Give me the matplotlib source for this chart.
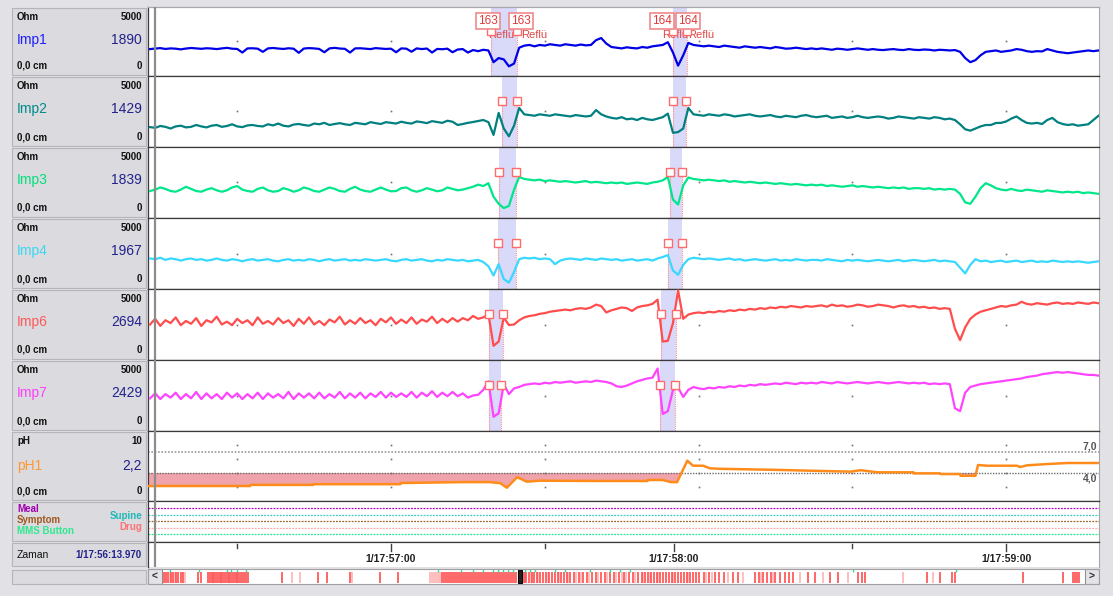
import numpy as np
import matplotlib.pyplot as plt
from matplotlib.patches import Rectangle

plt.rcParams['font.family'] = ['Liberation Sans', 'DejaVu Sans']

W, H = 1113, 596

# ---- data: seconds relative to 1/17:57:00, one sample per second ----
t = np.arange(-47, 139)
T_CURSOR = -46.03          # 1/17:56:13.970
XLIM = (-47.4, 138.1)

channels = ['Imp1', 'Imp2', 'Imp3', 'Imp4', 'Imp6', 'Imp7']
readings = ['1890', '1429', '1839', '1967', '2694', '2429']

imp1 = [1950, 1990, 2020, 1960, 2000, 1980, 1930, 1990, 2030, 2000,
        1970, 2010, 1990, 1950, 2000, 2040, 1980, 1960, 1700, 2000,
        2010, 1980, 1750, 2000, 2030, 1990, 1960, 2010, 1980, 1680,
        1990, 2020, 2000, 1960, 1720, 2000, 2040, 1990, 1970, 1700,
        2000, 2010, 1980, 1950, 2020, 1990, 1960, 1980, 1720, 2000,
        1980, 1760, 2000, 1950, 1990, 1700, 1960, 1940, 1980, 1720,
        1920, 1950, 1700, 1880, 1800, 1900, 1850, 1000, 1300, 1200,
        700, 900, 2050, 2200, 2250, 2150, 2250, 2200, 2300, 2250,
        2200, 2300, 2250, 2200, 2280, 2220, 2250, 2600, 2750, 2350,
        2100, 2050, 2000, 2080, 2030, 2000, 2100, 2050, 2150, 2200,
        2250, 2450, 1700, 750, 1500, 2400, 2250, 2200, 2150, 2200,
        2150, 2100, 2200, 2150, 2100, 2050, 2150, 2100, 2050, 2100,
        2050, 2000, 2100, 2050, 1980, 2000, 2050, 2000, 1950, 2000,
        1950, 2000, 1950, 1900, 1980, 1950, 1900, 1950, 2000, 1950,
        1900, 1950, 1900, 1880, 1920, 1950, 1900, 1880, 1950, 1900,
        1880, 1920, 1900, 1850, 1900, 1880, 1850, 1880, 1750, 1300,
        1000, 1150, 1500, 1750, 1800, 1850, 1750, 1800, 1850, 1950,
        1900, 1800, 1750, 1800, 1780, 1950, 1850, 1750, 1700, 1650,
        1700, 1750, 1800, 1850, 1800, 1850]

imp2 = [1400, 1350, 1480, 1420, 1300, 1450, 1500, 1380, 1420, 1550,
        1450, 1380, 1500, 1550, 1420, 1480, 1600, 1450, 1400, 1520,
        1550, 1480, 1450, 1600, 1520, 1650, 1500, 1450, 1580, 1620,
        1550, 1500, 1650, 1600, 1700, 1550, 1620, 1680, 1600, 1550,
        1700, 1650, 1600, 1750, 1680, 1620, 1750, 1700, 1650, 1780,
        1700, 1650, 1800, 1750, 1680, 1820, 1760, 1700, 1850, 1780,
        1550, 1620, 1700, 1760, 1830, 1900, 1750, 850, 2400, 1300,
        750, 1500, 2750, 2300, 2250, 2200, 2300, 2250, 2200, 2300,
        2250, 2200, 2150, 2250, 2200, 2150, 2200, 2600, 2300, 2150,
        2050, 2000, 2100, 1950, 2000, 1900, 2050, 1950, 1900, 2000,
        2100, 2350, 1000, 1050, 1300, 2750, 2300, 2250, 2200, 2300,
        2250, 2200, 2300, 2250, 2150, 2200, 2250, 2300, 2200, 2150,
        2200, 2250, 2150, 2100, 2200, 2150, 2100, 2200, 2250, 2150,
        2100, 2150, 2200, 2050, 2100, 2150, 2050, 2100, 2200, 2100,
        2050, 2100, 2150, 2100, 2000, 2050, 2150, 2100, 2050, 2000,
        2100, 2050, 2000, 2100, 2050, 1950, 2000, 1900, 1600, 1250,
        1150, 1300, 1450, 1550, 1550, 1690, 1700, 1800, 2000, 2150,
        1900, 1700, 1650, 1700, 1620, 1900, 2050, 1750, 1620, 1550,
        1600, 1500, 1550, 1600, 1900, 2200]

imp3 = [1900, 2000, 2150, 2050, 1900, 1850, 2000, 2200, 2050, 1900,
        1850, 2000, 2100, 1950, 1850, 1950, 2150, 2250, 2000, 1900,
        1850, 2050, 2150, 1950, 1850, 1900, 2100, 2000, 1850, 1950,
        2150, 2050, 1900, 1850, 2000, 2150, 2050, 1900, 1850, 2050,
        2200, 2000, 1900, 1850, 2000, 2150, 2000, 1880, 1900, 2100,
        2150, 1950, 1850, 1950, 2100, 2000, 1880, 1950, 2150, 2050,
        1950, 2000, 2100, 2200, 2350, 2250, 2450, 1500, 1000, 700,
        850, 2000, 2890, 2750, 2700, 2650, 2700, 2600, 2650, 2600,
        2550, 2600, 2550, 2500, 2550, 2600, 2500, 2550, 2500, 2450,
        2500, 2450, 2500, 2400, 2450, 2500, 2450, 2400, 2500, 2550,
        2650, 2900, 1300, 950, 2300, 2850, 2750, 2700, 2650, 2700,
        2650, 2600, 2650, 2550, 2600, 2550, 2500, 2550, 2500, 2450,
        2500, 2450, 2400, 2450, 2400, 2350, 2400, 2350, 2300, 2350,
        2300, 2350, 2250, 2300, 2250, 2200, 2250, 2300, 2200, 2250,
        2200, 2150, 2200, 2150, 2100, 2150, 2100, 2150, 2050, 2100,
        2100, 2050, 2100, 2000, 2050, 2000, 2050, 2000, 1700, 1100,
        1000, 1500, 2100, 2450, 2300, 2100, 2000, 1950, 2050, 1950,
        1900, 2000, 1950, 1900, 1850, 1950, 1900, 1850, 1800, 1850,
        1800, 1850, 1750, 1800, 1750, 1700]

imp4 = [2150, 2100, 2200, 2050, 2150, 2100, 2000, 2100, 2150, 2050,
        2100, 2000, 2050, 2150, 2050, 2000, 2100, 2050, 1950, 2050,
        2100, 2000, 2050, 2100, 2000, 1950, 2050, 2100, 2000, 2050,
        2000, 2100, 2050, 1950, 2050, 2100, 2000, 2050, 2100, 2000,
        2050, 2000, 2100, 2050, 2000, 2050, 2100, 2000, 1950, 2050,
        2100, 2000, 2050, 2100, 2000, 1950, 2050, 2000, 2100, 2050,
        2000, 2050, 1950, 2000, 2050, 1900, 1600, 950, 1750, 700,
        450, 1200, 2100, 2200, 2150, 2200, 2100, 2150, 2100, 1750,
        2000, 2100, 2150, 2100, 2050, 2150, 2100, 2050, 2150, 2100,
        2050, 2100, 2000, 2050, 2100, 2000, 2050, 2100, 2000, 2150,
        2250, 2390, 1300, 1000, 1700, 2100, 2200, 2150, 2100, 2150,
        2100, 2050, 2100, 2150, 2050, 2100, 2000, 2050, 2100, 2050,
        2000, 2050, 2100, 2000, 2050, 2000, 2100, 2050, 2000, 2050,
        2050, 2000, 2100, 2050, 2000, 1950, 2050, 2000, 2050, 2000,
        1950, 2000, 2050, 2000, 1950, 2000, 2050, 1950, 2000, 2050,
        2000, 1950, 2000, 2050, 1950, 2000, 1950, 1900, 1500, 1100,
        1700, 2100, 1950, 2000, 1900, 1950, 2000, 1900, 1950, 2000,
        1900, 1950, 2000, 1900, 1950, 1900, 2000, 1950, 1900, 1950,
        1900, 1950, 1900, 1850, 1900, 1950]

imp6 = [2500, 2900, 2400, 2800, 2600, 3000, 2450, 2750, 2550, 2950,
        2400, 2800, 2650, 3050, 2500, 2700, 2450, 2900, 2600, 2800,
        2450, 3000, 2550, 2750, 2500, 2950, 2600, 2800, 2400, 2900,
        2550, 3000, 2500, 2750, 2450, 2850, 2650, 3050, 2500, 2800,
        2550, 2950, 2600, 2800, 2450, 2900, 2650, 3000, 2550, 2850,
        2600, 3000, 2550, 2850, 2700, 3050, 2600, 2900, 2650, 2950,
        2700, 2950, 2800, 3100, 2900, 3000, 3240, 1000, 1300, 3000,
        2460, 2500, 2800, 3000, 3100, 3150, 3250, 3300, 3400, 3450,
        3500, 3550, 3500, 3600, 3650, 3600, 3700, 3900, 3800, 3350,
        3500, 3600, 3700, 3650, 3450, 3700, 3800, 3850, 3950, 4250,
        1300, 1350, 2600, 4900, 2900, 3200, 3300, 3350, 3300, 3400,
        3350, 3450, 3400, 3500, 3450, 3550, 3500, 3600, 3550, 3650,
        3600, 3700, 3650, 3750, 3700, 3800, 3750, 3700, 3800, 3750,
        3800, 3850, 3750, 3900, 3800, 3850, 3750, 3800, 3900, 3850,
        3750, 3800, 3900, 3850, 3800, 3700, 3800, 3850, 3750, 3800,
        3700, 3750, 3650, 3700, 3600, 3650, 3600, 2200, 1400, 2300,
        2900, 3200, 3400, 3500, 3600, 3700, 3800, 3750, 3850, 3900,
        4100, 3950, 3900, 4000, 3950, 3900, 4000, 4050, 3950, 4000,
        3950, 4050, 4000, 3950, 4050, 4000]

imp7 = [2300, 2650, 2250, 2600, 2350, 2700, 2250, 2600, 2300, 2750,
        2250, 2650, 2300, 2600, 2250, 2700, 2350, 2650, 2250, 2600,
        2300, 2700, 2250, 2650, 2350, 2600, 2300, 2750, 2250, 2650,
        2350, 2650, 2300, 2700, 2300, 2600, 2350, 2750, 2300, 2650,
        2350, 2700, 2300, 2650, 2400, 2750, 2350, 2700, 2400, 2650,
        2400, 2750, 2350, 2700, 2450, 2800, 2400, 2700, 2450, 2750,
        2450, 2650, 2350, 2500, 2550, 2900, 3500, 1000, 1250, 3300,
        2600, 3000, 3100, 3250, 3300, 3350, 3300, 3400, 3350, 3450,
        3400, 3450, 3500, 3400, 3450, 3500, 3450, 3550, 3500, 3450,
        3350, 3150, 3100, 3200, 3350, 3500, 3600, 3700, 3750, 4400,
        1200, 1400, 2900, 3050, 2400, 2900, 3100, 3000, 2950, 3050,
        3000, 3100, 3050, 3150, 3100, 3200, 3150, 3250, 3200, 3300,
        3250, 3300, 3350, 3300, 3400, 3350, 3300, 3400, 3350, 3400,
        3350, 3450, 3400, 3350, 3450, 3400, 3350, 3400, 3450, 3400,
        3350, 3400, 3450, 3400, 3350, 3400, 3450, 3400, 3350, 3400,
        3350, 3400, 3300, 3350, 3300, 3350, 3300, 1600, 1400, 2700,
        3100, 3200, 3300, 3350, 3400, 3450, 3500, 3550, 3600, 3650,
        3700, 3800, 3850, 3900, 4000, 4050, 4100, 4150, 4100, 4150,
        4100, 4050, 4000, 3950, 3950, 3900]

imp_values = [imp1, imp2, imp3, imp4, imp6, imp7]

# reflux episodes 163 and 164 (start / end per channel, seconds)
r163_start = [19.5, 21.7, 21.1, 20.9, 19.1, 19.1]
r163_end = [24.6, 24.6, 24.4, 24.4, 21.9, 21.5]
r164_start = [55.0, 55.0, 54.4, 54.0, 52.7, 52.5]
r164_end = [57.8, 57.6, 56.8, 56.8, 55.6, 55.4]
MARK_OHM = 3250

# pH channel (breakpoints)
ph_t = [-47.4, -27.5, -27.4, -15.2, -15.1, 1.8, 1.9, 14, 19.3, 21.3, 22.6,
        24.6, 26.5, 29, 40.8, 50, 50.1, 53, 54.6, 55.8, 57.8, 58.9, 60.9,
        62.2, 64.2, 75, 89.6, 91.6, 94.8, 101.9, 102, 107.1, 107.2, 111,
        111.1, 114, 114.5, 116.3, 122.1, 122.7, 124.1, 128, 132, 138.1]
ph_v = [2.14, 2.14, 2.3, 2.3, 2.4, 2.4, 2.57, 2.7, 2.7, 2.55, 1.9,
        3.4, 2.76, 2.9, 2.86, 2.86, 3.0, 3.0, 2.7, 2.7, 5.76, 5.04, 5.04,
        4.67, 4.6, 4.45, 4.19, 4.4, 4.1, 4.1, 3.95, 3.95, 3.85, 3.85,
        3.6, 3.6, 5.14, 5.04, 5.04, 4.85, 5.1, 5.28, 5.43, 5.43]

grid_t = [-30, 0, 30, 60, 90, 120]
label_t = [0, 55.2, 120]
time_labels = ['1/17:57:00', '1/17:58:00', '1/17:59:00']

event_names = ['Meal', 'Supine', 'Symptom', 'Drug', 'MMS Button']
event_colors = ['#b000c0', '#40c8c8', '#a0602a', '#ffaaaa', '#20e890']

# overview bar (position along recording, 0..921)
ov_dark = [1, 3, 5, 8, 10, 13, 15, 18, 20, 35, 38,
           45, 47, 49, 51, 53, 55, 57, 59, 61, 63, 65, 67, 69, 71, 73, 75, 77, 79, 81, 83, 85,
           119, 155, 164, 187, 217, 235,
           279, 281, 283, 285, 287, 289, 291, 293, 295, 297, 299, 301, 303, 305, 307, 309,
           311, 313, 315, 317, 319, 321, 323, 325, 327, 329, 331, 333, 335, 337, 339, 341,
           343, 345, 347, 349, 351, 353,
           361, 363, 366, 369, 371, 374, 377, 380, 383, 386, 389, 392, 395, 398, 401, 404, 407,
           411, 416, 420, 424, 429, 433, 438, 442, 447, 451, 456, 461, 466, 470, 475,
           479, 482, 485, 488, 491, 494, 497, 500, 503, 506, 509, 512, 515, 518, 521, 524,
           527, 530, 533, 536, 541, 546, 552, 556, 561, 570, 575, 592, 596, 600, 604, 608,
           612, 617, 622, 626, 630, 645, 652, 667, 675, 695, 699, 702,
           764, 777, 789, 792, 860, 900, 910, 912, 914, 916]
ov_light = [7, 12, 22, 50, 58, 66, 74, 129, 137, 189, 267, 269, 271, 273, 275, 277,
            362, 368, 375, 385, 396, 405, 413, 418, 426, 435, 444, 453, 459, 463, 472,
            480, 487, 495, 510, 525, 543, 549, 565, 580, 598, 610, 637, 660, 685, 740, 770]
ov_green = [7, 36, 64, 68, 74, 83, 275, 298, 310, 320, 330, 335, 340, 345, 350, 362,
            367, 372, 392, 402, 427, 447, 457, 467, 690, 793]
ov_cursor = 357

# ---- style ----
trace_colors = ['#0000e6', '#008080', '#00e68a', '#38d8ff', '#ff4d4d', '#ff44ff']
label_colors = ['#1f1fff', '#008b8b', '#00e07a', '#3cd8f0', '#ff5a5a', '#ff40ff']
tops = [7, 76, 147, 218, 289, 360]
bottoms = [76, 147, 218, 289, 360, 431]
NAVY = '#22228a'
BAND = '#d9d9fa'
MARK_EC = '#ff6b6b'

fig = plt.figure(figsize=(W / 100, H / 100), dpi=100, facecolor='#e1e1e6')


def px_axes(x0, y0, x1, y1):
    return fig.add_axes([x0 / W, 1 - y1 / H, (x1 - x0) / W, (y1 - y0) / H])


def ftext(x, y, s, **kw):
    fig.text(x / W, 1 - y / H, s, va='center', **kw)


def cell(y0, y1):
    fig.add_artist(Rectangle((12 / W, 1 - (y1 - 1) / H), 134 / W, (y1 - y0 - 2) / H,
                             transform=fig.transFigure, fc='#dadadf', ec='#b4b4ba', lw=0.8))


def style_axes(ax, top_col='#3a3a3a'):
    ax.set_xlim(XLIM)
    ax.set_xticks([])
    ax.set_yticks([])
    for side in ['left', 'bottom']:
        ax.spines[side].set_color('#3a3a3a')
        ax.spines[side].set_linewidth(0.9)
    ax.spines['top'].set_color(top_col)
    ax.spines['top'].set_linewidth(0.9)
    ax.spines['right'].set_color('#a8a8a8')
    ax.axvline(T_CURSOR, color='#8c8c8c', lw=1.6, zorder=4)


# ---- impedance channels ----
for i, name in enumerate(channels):
    y0, y1 = tops[i], bottoms[i]
    ax = px_axes(148, y0, 1099, y1)
    style_axes(ax, '#a8a8a8' if i == 0 else '#3a3a3a')
    ax.set_ylim(0, 5000)
    edges = [r163_start[i], r163_end[i], r164_start[i], r164_end[i]]
    ax.axvspan(r163_start[i], r163_end[i], color=BAND, lw=0, zorder=1)
    ax.axvspan(r164_start[i], r164_end[i], color=BAND, lw=0, zorder=1)
    ax.vlines(edges, 0, MARK_OHM, colors='#ff8a8a', linestyles=(0, (1, 1)), lw=0.8, zorder=2)
    ax.plot(grid_t, [2500] * len(grid_t), ls='none', marker='s', ms=1.2,
            color='#707070', mew=0, zorder=2)
    ax.plot(t, imp_values[i], color=trace_colors[i], lw=1.6, zorder=3)
    ax.plot(edges, [MARK_OHM] * 4, ls='none', marker='s', ms=5.5, mfc='white',
            mec=MARK_EC, mew=1, zorder=6)

    if i == 0:
        ax.vlines(edges, MARK_OHM, 4000, colors='#ff8a8a', lw=0.8, zorder=2)
        for xb, num in [(19.0, '163'), (25.4, '163'), (52.8, '164'), (58.0, '164')]:
            ax.text(xb, 3990, num, ha='center', va='center', fontsize=8.5, color='#e03a3a',
                    zorder=7, bbox=dict(boxstyle='square,pad=0.18', fc='white',
                                        ec='#f08a8a', lw=1.2))
            ax.text(xb, 3000, 'Reflü', ha='left', va='center', fontsize=8,
                    color='#e04848', zorder=5)

    cell(y0, y1)
    ftext(17, y0 + 10, 'Ohm', fontsize=7, fontweight='bold', color='#111111')
    ftext(142, y0 + 10, '5000', fontsize=7, fontweight='bold', color='#111111', ha='right')
    ftext(17, y0 + 33, name, fontsize=10, color=label_colors[i])
    ftext(142, y0 + 33, readings[i], fontsize=10, color=NAVY, ha='right')
    ftext(17, y1 - 10, '0,0 cm', fontsize=7, fontweight='bold', color='#111111')
    ftext(142, y1 - 10, '0', fontsize=7, fontweight='bold', color='#111111', ha='right')

# ---- pH channel ----
pax = px_axes(148, 431, 1099, 501)
style_axes(pax)
pax.set_ylim(0, 10)
ph_t_arr = np.array(ph_t)
ph_v_arr = np.array(ph_v)
pax.fill_between(ph_t_arr, ph_v_arr, 4.0, where=ph_v_arr < 4.0, interpolate=True,
                 color='#f0a3aa', lw=0, zorder=1)
pax.axhline(7.0, color='#9a9a9a', ls=(0, (1, 1)), lw=1.2, zorder=2)
pax.axhline(4.0, color='#6a6a6a', ls=(0, (1, 1)), lw=1.0, zorder=2)
for lev in [8, 6, 4, 2]:
    pax.plot(grid_t, [lev] * len(grid_t), ls='none', marker='s', ms=1.2,
             color='#707070', mew=0, zorder=2)
pax.plot(ph_t, ph_v, color='#ff8c1a', lw=1.8, zorder=3)
pax.text(0.998, 7.85, '7,0', transform=pax.get_yaxis_transform(), ha='right',
         va='center', fontsize=7.5, fontweight='bold', color='#555555')
pax.text(0.998, 3.15, '4,0', transform=pax.get_yaxis_transform(), ha='right',
         va='center', fontsize=7.5, fontweight='bold', color='#555555')

cell(431, 501)
ftext(17, 441, 'pH', fontsize=7, fontweight='bold', color='#111111')
ftext(142, 441, '10', fontsize=7, fontweight='bold', color='#111111', ha='right')
ftext(17, 466, 'pH1', fontsize=10, color='#ff9933')
ftext(142, 466, '2,2', fontsize=10, color=NAVY, ha='right')
ftext(17, 491, '0,0 cm', fontsize=7, fontweight='bold', color='#111111')
ftext(142, 491, '0', fontsize=7, fontweight='bold', color='#111111', ha='right')

# ---- event channel ----
eax = px_axes(148, 501, 1099, 542)
style_axes(eax)
eax.set_ylim(41, 0)
for yy, col in zip([7, 14, 20, 27, 33], event_colors):
    eax.axhline(yy, color=col, ls=(0, (1.5, 1)), lw=0.9)

cell(501, 542)
ftext(17, 509, event_names[0], fontsize=7, fontweight='bold', color='#a000b0')
ftext(17, 520, event_names[2], fontsize=7, fontweight='bold', color='#a0581e')
ftext(17, 531, event_names[4], fontsize=7, fontweight='bold', color='#30e890')
ftext(142, 516, event_names[1], fontsize=7, fontweight='bold', color='#20b8b8', ha='right')
ftext(142, 527, event_names[3], fontsize=7, fontweight='bold', color='#ff7070', ha='right')

# ---- time axis ----
tax = px_axes(148, 542, 1099, 567)
style_axes(tax)
tax.spines['bottom'].set_visible(False)
tax.set_ylim(25, 0)
for tt in grid_t:
    if tt not in (0, 60, 120):
        tax.plot([tt, tt], [2, 5.5], color='#404040', lw=1)
for tt, lab in zip(label_t, time_labels):
    tax.plot([tt, tt], [2, 9], color='#404040', lw=1)
    tax.text(tt, 17.5, lab, ha='center', va='center', fontsize=7.5, fontweight='bold',
             color='#202020')

cell(542, 567)
ftext(17, 555, 'Zaman', fontsize=7.5, color='#111111')
ftext(142, 555, '1/17:56:13.970', fontsize=7, fontweight='bold', color=NAVY, ha='right')

# ---- overview scroll bar ----
sax = px_axes(148, 569, 1099, 584)
sax.set_xlim(-15, 936)
sax.set_ylim(0, 1)
sax.set_xticks([])
sax.set_yticks([])
for s in sax.spines.values():
    s.set_color('#a0a0a0')
sax.vlines(ov_light, 0.05, 0.78, colors='#ffb0b0', lw=1.15)
sax.vlines(ov_dark, 0.05, 0.78, colors='#ff4545', lw=1.15)
sax.vlines(ov_green, 0.8, 1.0, colors='#30dd99', lw=1.0)
sax.add_patch(Rectangle((ov_cursor - 2, 0.05), 4, 0.9, fc='#222222', ec='black', lw=0.8))
for xb, arrow in [(-15, '<'), (922, '>')]:
    sax.add_patch(Rectangle((xb, 0), 14, 1, fc='#e4e4e8', ec='#909090', lw=0.8))
    sax.text(xb + 7, 0.5, arrow, ha='center', va='center', fontsize=7.5,
             fontweight='bold', color='#333333')

cell(569, 585)

fig.savefig('out.png', dpi=100, facecolor=fig.get_facecolor())
